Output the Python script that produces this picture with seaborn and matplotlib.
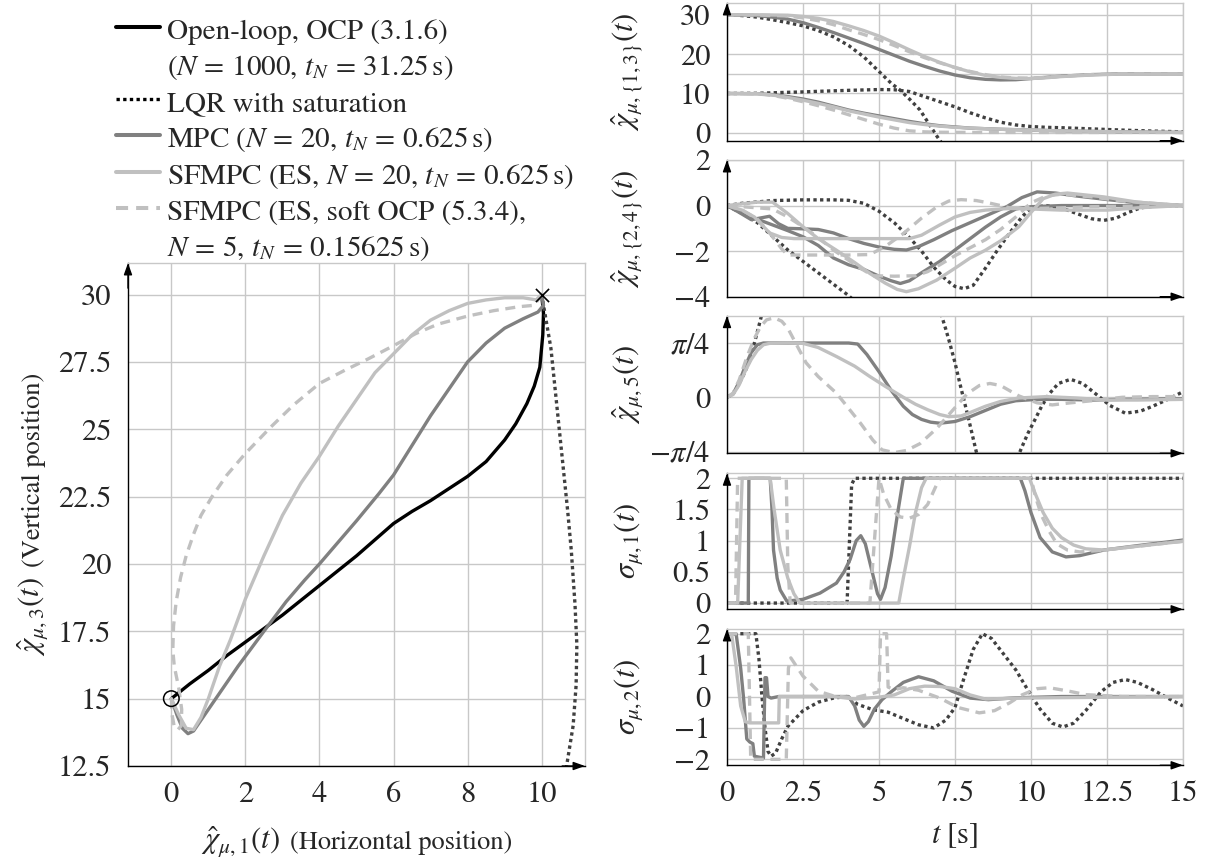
import matplotlib
matplotlib.use("Agg")
import matplotlib.pyplot as plt
import seaborn as sns
from matplotlib.lines import Line2D

# ---------------- trajectory in the plane (horizontal vs vertical position) ----------------
start_x, start_y = [0.0], [15.0]
target_x, target_y = [10.0], [30.0]

ol_x = [0, 0.5, 1, 1.5, 2, 2.5, 3, 3.5, 4, 4.5, 5, 5.5, 6, 6.5, 7, 7.5, 8, 8.5, 9, 9.3, 9.6, 9.8, 9.95, 10.03, 10.05, 10.0]
ol_y = [15, 15.55, 16.05, 16.6, 17.1, 17.6, 18.1, 18.65, 19.2, 19.75, 20.3, 20.9, 21.5, 21.95, 22.35, 22.8, 23.25, 23.8, 24.6, 25.2, 25.95, 26.6, 27.3, 28.5, 29.3, 30]

lqr_x = [10, 10.1, 10.25, 10.4, 10.55, 10.7, 10.8, 10.9, 10.95, 10.93, 10.85, 10.72, 10.65]
lqr_y = [30, 29.2, 28.0, 26.0, 24.0, 22.0, 20.5, 18.5, 17.0, 15.5, 14.0, 12.9, 12.3]

mpc_x = [0, 0.15, 0.3, 0.45, 0.6, 0.9, 1.3, 1.8, 2.5, 3.1, 3.6, 4.0, 4.5, 5.0, 5.6, 6.0, 6.5, 7.0, 7.5, 8.0, 8.5, 9.0, 9.5, 9.9, 10.05, 10.0]
mpc_y = [15, 14.4, 13.9, 13.7, 13.8, 14.4, 15.2, 16.2, 17.5, 18.6, 19.4, 20.0, 20.8, 21.6, 22.6, 23.3, 24.4, 25.5, 26.5, 27.5, 28.2, 28.75, 29.1, 29.35, 29.6, 30]

sf_x = [0, 0.2, 0.4, 0.6, 0.8, 1.0, 1.3, 1.6, 2.0, 2.5, 3.0, 3.5, 4.0, 4.5, 5.0, 5.5, 6.0, 6.5, 7.0, 7.5, 8.0, 8.5, 9.0, 9.5, 9.85, 10.0]
sf_y = [15, 14.4, 13.9, 13.85, 14.3, 15.0, 16.2, 17.2, 18.7, 20.3, 21.8, 23.0, 24.0, 25.1, 26.1, 27.1, 27.8, 28.5, 29.05, 29.4, 29.67, 29.8, 29.88, 29.88, 29.8, 30]

sd_x = [0, 0.02, 0.08, 0.18, 0.27, 0.28, 0.2, 0.08, 0.04, 0.06, 0.13, 0.25, 0.4, 0.6, 0.8, 1.1, 1.5, 2.0, 2.7, 3.3, 4.0, 4.7, 5.3, 6.0, 6.6, 7.2, 8.0, 8.7, 9.4, 9.8, 10.0]
sd_y = [15, 14.4, 13.95, 13.85, 14.0, 14.6, 15.4, 16.2, 16.8, 17.7, 18.6, 19.5, 20.3, 21.1, 21.8, 22.5, 23.3, 24.1, 25.1, 25.9, 26.7, 27.2, 27.6, 28.1, 28.55, 28.9, 29.2, 29.4, 29.55, 29.6, 30]

# ---------------- positions chi_1 (lower group) and chi_3 (upper group) ----------------
lqr_p3_t = [0, 0.5, 1, 1.6, 2.0, 2.5, 3.0, 3.5, 4.0, 4.5, 5.0, 5.4, 5.7, 6.0, 6.35, 6.6, 6.9, 7.1]
lqr_p3_v = [30, 29.8, 29.4, 28.6, 28.0, 27.2, 26.0, 24.4, 22.2, 19.3, 15.6, 12.6, 10.8, 8.6, 5.8, 2.8, -0.8, -3.0]
mpc_p3_t = [0, 1, 1.5, 2, 2.5, 3, 3.5, 4, 4.5, 5, 5.5, 6, 6.5, 7, 7.5, 8, 8.5, 9, 9.5, 10, 10.5, 11, 12, 13, 15]
mpc_p3_v = [30, 29.8, 29.4, 28.9, 28.0, 26.8, 25.5, 24.1, 22.7, 21.2, 19.7, 18.2, 16.9, 15.7, 14.7, 14.0, 13.6, 13.45, 13.5, 13.8, 14.1, 14.4, 14.8, 15.0, 15.0]
sf_p3_t = [0, 1, 2, 2.5, 3, 3.5, 4, 4.5, 5, 5.5, 6, 6.5, 7, 7.5, 8, 8.5, 9, 9.5, 10, 10.5, 11, 12, 13, 15]
sf_p3_v = [30, 30, 29.9, 29.6, 29.1, 28.3, 27.2, 26.0, 24.6, 22.9, 21.1, 19.4, 17.9, 16.6, 15.5, 14.6, 14.1, 13.85, 13.8, 14.0, 14.3, 14.7, 14.95, 15.0]
sd_p3_t = [0, 1, 2, 2.5, 3, 3.5, 4, 4.5, 5, 5.5, 6, 6.5, 7, 7.5, 8, 8.5, 9, 9.5, 10, 10.5, 11, 12, 13, 15]
sd_p3_v = [30, 29.95, 29.7, 29.2, 28.5, 27.5, 26.2, 25.0, 23.7, 22.2, 20.6, 19.1, 17.8, 16.6, 15.6, 14.8, 14.2, 13.95, 13.9, 14.1, 14.4, 14.8, 15.0, 15.0]

lqr_p1_t = [0, 1, 2, 2.5, 3, 4, 5, 5.5, 6, 6.5, 7, 7.5, 8, 8.5, 9, 9.5, 10, 10.5, 11, 12, 13, 14, 15]
lqr_p1_v = [10, 10.05, 10.3, 10.4, 10.55, 10.8, 11.0, 10.95, 10.5, 9.2, 7.9, 6.6, 5.1, 3.8, 2.7, 2.0, 1.6, 1.4, 1.3, 1.0, 0.7, 0.45, 0.25]
mpc_p1_t = [0, 1, 1.5, 2, 2.5, 3, 3.5, 4, 4.5, 5, 5.5, 6, 6.5, 7, 7.5, 8, 9, 10, 11, 12.5, 15]
mpc_p1_v = [10, 9.95, 9.7, 9.2, 8.6, 7.8, 6.8, 5.8, 5.0, 4.3, 3.6, 2.9, 2.3, 1.8, 1.5, 1.2, 0.9, 0.7, 0.5, 0.3, 0.1]
sf_p1_t = [0, 1, 1.5, 2, 2.5, 3, 3.5, 4, 4.5, 5, 5.5, 6, 6.5, 7, 7.5, 8, 9, 10, 11, 12.5, 15]
sf_p1_v = [10, 9.95, 9.6, 9.0, 8.3, 7.5, 6.6, 5.6, 4.8, 4.0, 3.3, 2.6, 2.1, 1.7, 1.4, 1.2, 0.9, 0.7, 0.5, 0.3, 0.1]
sd_p1_t = [0, 1, 1.5, 2, 2.5, 3, 3.5, 4, 4.5, 5, 5.5, 6, 6.5, 7, 8, 10, 12.5, 15]
sd_p1_v = [10, 9.9, 9.5, 8.8, 7.9, 6.9, 5.8, 4.6, 3.4, 2.2, 1.2, 0.5, 0.25, 0.15, 0.1, 0.1, 0.1, 0.1]

# ---------------- velocities chi_2 and chi_4 ----------------
lqr_v2_t = [0, 0.5, 1.5, 2.5, 3.5, 4.0, 4.5, 5.0, 5.5, 6.0, 6.4, 6.8, 7.2, 7.5, 7.8, 8.1, 8.5, 8.9, 9.3, 9.7, 10.0, 10.5, 11.0, 11.5, 12.0, 12.4, 12.8, 13.2, 13.6, 14.2, 15]
lqr_v2_v = [0, 0.1, 0.22, 0.25, 0.25, 0.23, 0.1, -0.25, -0.75, -1.4, -2.0, -2.7, -3.25, -3.55, -3.65, -3.5, -2.75, -1.95, -1.2, -0.5, -0.1, 0.0, -0.1, -0.35, -0.58, -0.65, -0.55, -0.3, -0.1, 0.0, 0.0]
lqr_v4_t = [0, 0.5, 1.0, 2.0, 3.0, 3.6, 4.0, 4.2]
lqr_v4_v = [0, -0.35, -0.75, -1.95, -2.95, -3.55, -3.95, -4.2]
mpc_v2_t = [0, 0.4, 0.8, 1.4, 1.7, 2.0, 2.5, 3.0, 3.5, 4.0, 4.5, 5.0, 5.5, 5.9, 6.3, 6.8, 7.4, 8.0, 8.6, 9.2, 9.7, 10.2, 10.8, 11.5, 12.4, 13.5, 15]
mpc_v2_v = [0, -0.3, -0.62, -0.47, -0.8, -1.0, -1.02, -1.05, -1.2, -1.45, -1.66, -1.82, -1.92, -1.95, -1.8, -1.5, -1.1, -0.75, -0.4, -0.05, 0.35, 0.6, 0.55, 0.42, 0.28, 0.12, 0.0]
mpc_v4_t = [0, 0.5, 1.0, 1.5, 2.0, 2.5, 3.0, 3.5, 4.0, 4.5, 5.0, 5.4, 5.7, 6.0, 6.4, 7.0, 7.5, 8.0, 8.5, 9.0, 9.5, 10.0, 11, 12, 15]
mpc_v4_v = [0, -0.3, -0.6, -0.85, -1.1, -1.37, -1.75, -2.3, -2.6, -2.8, -3.1, -3.3, -3.42, -3.3, -2.95, -2.45, -1.95, -1.45, -0.95, -0.5, -0.15, -0.05, 0.0, 0.0, 0.0]
sf_v4_t = [0, 0.5, 1.0, 1.5, 2.0, 2.5, 3.0, 3.6, 4.2, 4.7, 5.2, 5.6, 5.9, 6.3, 6.9, 7.5, 8.0, 8.5, 9.0, 9.6, 10.0, 10.4, 10.8, 11.2, 12.4, 13.5, 15]
sf_v4_v = [0, 0.08, 0.15, 0.15, -0.35, -0.93, -1.45, -1.96, -2.5, -2.98, -3.4, -3.68, -3.78, -3.65, -3.27, -2.75, -2.3, -1.96, -1.55, -0.93, -0.3, 0.3, 0.5, 0.55, 0.38, 0.15, 0.0]
sf_v2_t = [0, 0.5, 0.9, 1.4, 1.8, 2.2, 3, 4, 5, 6.0, 6.4, 7.0, 7.5, 8.0, 8.5, 9.0, 9.5, 10, 11, 12.5, 13.5, 15]
sf_v2_v = [0, -0.2, -0.5, -1.2, -1.4, -1.45, -1.45, -1.45, -1.45, -1.45, -1.3, -0.85, -0.5, -0.3, -0.2, -0.15, -0.12, -0.15, -0.2, -0.2, -0.1, 0.0]
sd_v2_t = [0, 0.5, 1.0, 1.4, 1.8, 2.0, 3.0, 4.0, 4.7, 5.2, 5.8, 6.4, 6.9, 7.3, 7.7, 8.2, 8.6, 9.0, 9.4, 10, 11, 12, 15]
sd_v2_v = [0, -0.2, -0.6, -1.2, -1.9, -2.17, -2.17, -2.17, -2.15, -1.8, -1.23, -0.55, -0.06, 0.2, 0.26, 0.22, 0.12, 0.0, -0.13, -0.13, -0.1, -0.05, 0.0]
sd_v4_t = [0, 0.5, 1.0, 1.5, 2.0, 2.5, 3.0, 3.5, 4.0, 4.4, 4.8, 5.5, 6.2, 6.6, 7.0, 7.5, 8.0, 8.5, 9.0, 9.5, 10.0, 10.5, 11.0, 12.0, 13.0, 15]
sd_v4_v = [0, -0.05, -0.1, -0.15, -0.5, -0.93, -1.4, -1.95, -2.4, -2.76, -3.08, -3.1, -3.08, -2.9, -2.6, -2.2, -1.85, -1.5, -1.05, -0.5, 0.12, 0.42, 0.5, 0.38, 0.2, 0.0]

# ---------------- orientation chi_5 ----------------
lqr_a_seg1_t = [0, 0.2, 0.4, 0.55, 0.7, 0.85, 1.0, 1.1, 1.2]
lqr_a_seg1_v = [0, 0.05, 0.2, 0.33, 0.48, 0.7, 0.95, 1.12, 1.3]
lqr_a_seg2_t = [6.98, 7.06, 7.2, 7.33, 7.5, 7.66, 7.8, 7.93, 8.1, 8.25]
lqr_a_seg2_v = [1.3, 1.18, 0.98, 0.78, 0.5, 0.2, -0.05, -0.28, -0.6, -0.88]
lqr_a_seg3_t = [9.55, 9.7, 9.9, 10.1, 10.35, 10.6, 10.9, 11.3, 11.7, 12.1, 12.6, 13.1, 13.6, 14.0, 14.5, 15]
lqr_a_seg3_v = [-0.88, -0.72, -0.52, -0.35, -0.13, 0.05, 0.2, 0.26, 0.2, 0.06, -0.12, -0.23, -0.2, -0.13, -0.03, 0.08]
mpc_a_t = [0, 0.2, 0.4, 0.6, 0.8, 1.0, 1.2, 1.5, 2, 3, 4, 4.3, 4.6, 5.0, 5.4, 5.8, 6.1, 6.4, 6.7, 7.0, 7.5, 8.0, 8.5, 9.0, 9.5, 10.2, 11, 12, 13, 15]
mpc_a_v = [0, 0.05, 0.22, 0.45, 0.65, 0.76, 0.785, 0.785, 0.785, 0.785, 0.785, 0.77, 0.62, 0.37, 0.1, -0.13, -0.25, -0.32, -0.36, -0.375, -0.35, -0.28, -0.19, -0.1, -0.05, -0.03, -0.03, -0.04, -0.03, -0.02]
sf_a_t = [0, 0.2, 0.4, 0.6, 0.8, 1.0, 1.2, 1.4, 2.0, 2.5, 3.0, 3.6, 4.2, 4.7, 5.2, 5.8, 6.2, 6.6, 7.0, 7.3, 7.7, 8.0, 8.5, 9.0, 9.6, 10.5, 11.5, 12.5, 13.5, 15]
sf_a_v = [0, 0.04, 0.18, 0.38, 0.55, 0.68, 0.76, 0.78, 0.785, 0.78, 0.72, 0.59, 0.45, 0.3, 0.16, 0.0, -0.1, -0.18, -0.25, -0.28, -0.27, -0.22, -0.13, -0.06, -0.01, 0.01, -0.01, -0.04, -0.04, -0.03]
sd_a_t = [0, 0.2, 0.4, 0.66, 0.9, 1.1, 1.3, 1.55, 1.8, 2.0, 2.3, 2.6, 3.0, 3.6, 4.0, 4.4, 4.8, 5.1, 5.5, 5.9, 6.35, 6.9, 7.4, 7.9, 8.3, 8.65, 9.0, 9.6, 10.2, 10.7, 11.3, 12, 13, 14, 15]
sd_a_v = [0, 0.06, 0.25, 0.59, 0.85, 1.02, 1.12, 1.15, 1.1, 1.0, 0.75, 0.5, 0.3, 0.06, -0.16, -0.38, -0.62, -0.76, -0.8, -0.77, -0.67, -0.45, -0.2, 0.05, 0.17, 0.2, 0.17, 0.02, -0.08, -0.11, -0.08, -0.05, 0.0, 0.01, 0.01]

# ---------------- input sigma_1 ----------------
lqr_s1_t = [0, 3.95, 4.1, 4.2, 15]
lqr_s1_v = [0, 0, 1.9, 2, 2]
mpc_s1_t = [0, 0.7, 0.72, 1.42, 1.48, 1.53, 1.65, 1.75, 1.97, 2.5, 3.06, 3.6, 3.85, 4.05, 4.25, 4.4, 4.55, 4.75, 4.95, 5.05, 5.2, 5.4, 5.6, 5.8, 9.65, 9.8, 10.0, 10.3, 10.7, 11.15, 11.6, 12.4, 13.5, 15]
mpc_s1_v = [0, 0, 2, 2, 1.5, 0.85, 0.4, 0.21, 0.03, 0.06, 0.16, 0.32, 0.5, 0.7, 1.0, 1.08, 0.95, 0.55, 0.15, 0.06, 0.25, 0.75, 1.4, 2, 2, 1.8, 1.45, 1.05, 0.82, 0.74, 0.76, 0.85, 0.92, 1.01]
sf_s1_t = [0, 0.35, 0.5, 1.42, 1.55, 1.75, 2.0, 2.2, 2.4, 5.65, 5.8, 6.0, 6.2, 6.4, 6.55, 9.95, 10.1, 10.4, 10.7, 11.0, 11.4, 11.8, 12.4, 13.5, 15]
sf_s1_v = [0, 0, 2, 2, 1.5, 0.85, 0.4, 0.15, 0.0, 0.0, 0.4, 0.9, 1.45, 1.85, 2, 2, 1.8, 1.45, 1.2, 1.05, 0.93, 0.87, 0.85, 0.91, 0.99]
sd_s1_t = [0, 0.28, 0.35, 1.95, 2.0, 2.08, 4.7, 4.85, 5.0, 5.15, 5.4, 5.7, 6.0, 6.3, 6.6, 6.85, 7.0, 10.0, 10.15, 10.35, 10.6, 10.85, 11.2, 11.6, 12.2, 13.5, 15]
sd_s1_v = [0, 0, 2, 2, 0.6, 0.0, 0.0, 1.0, 2, 1.75, 1.5, 1.38, 1.36, 1.42, 1.58, 1.85, 2, 2, 1.7, 1.4, 1.15, 0.95, 0.85, 0.82, 0.84, 0.91, 0.99]

# ---------------- input sigma_2 ----------------
lqr_s2_t = [0, 0.95, 1.05, 1.15, 1.25, 1.35, 1.45, 1.6, 1.8, 2.0, 2.5, 3.0, 3.5, 3.95, 4.3, 4.8, 5.3, 5.8, 6.3, 6.8, 7.2, 7.5, 7.8, 8.1, 8.4, 8.7, 9.1, 9.5, 9.9, 10.3, 10.7, 11.05, 11.4, 11.8, 12.3, 12.7, 13.1, 13.5, 14.0, 14.5, 15]
lqr_s2_v = [2, 2, 1.2, 0.0, -1.0, -1.75, -1.9, -1.8, -1.35, -0.95, -0.45, -0.18, -0.05, 0.0, -0.25, -0.42, -0.5, -0.7, -0.9, -1.0, -0.75, -0.35, 0.6, 1.5, 2.0, 1.85, 1.35, 0.85, 0.2, -0.4, -0.85, -0.97, -0.85, -0.45, 0.15, 0.45, 0.54, 0.45, 0.22, -0.05, -0.3]
mpc_s2_t = [0, 0.3, 0.45, 0.55, 0.65, 0.75, 0.85, 0.9, 1.2, 1.25, 1.3, 1.35, 1.45, 1.7, 2.5, 3.5, 4.0, 4.2, 4.35, 4.5, 4.65, 4.85, 5.1, 5.4, 5.8, 6.3, 6.8, 7.4, 8.0, 8.6, 9.5, 11, 15]
mpc_s2_v = [2, 2, 0.9, -0.1, -1.35, -1.45, -1.5, -1.9, -1.96, 0.6, 0.6, 0.0, -0.05, 0.0, 0.0, 0.0, 0.0, -0.3, -0.75, -0.95, -0.8, -0.4, -0.1, 0.15, 0.45, 0.63, 0.5, 0.17, -0.05, -0.1, -0.04, 0.0, 0.0]
sf_s2_t = [0, 0.15, 0.3, 0.45, 0.6, 0.75, 1.7, 1.72, 2.5, 3.5, 4.2, 5.0, 5.5, 6.0, 6.5, 7.0, 7.5, 8.0, 8.5, 9.5, 15]
sf_s2_v = [2, 2, 0.97, -0.3, -0.8, -0.84, -0.84, 0.0, 0.0, 0.0, -0.08, -0.02, 0.05, 0.25, 0.33, 0.32, 0.25, 0.05, -0.08, -0.05, 0.0]
sd_s2_t = [0, 0.7, 0.78, 1.95, 2.02, 2.1, 2.5, 3.0, 3.5, 4.2, 4.8, 5.0, 5.05, 5.25, 5.3, 5.5, 5.8, 6.3, 7.0, 7.6, 8.3, 8.8, 9.3, 9.7, 10.2, 10.6, 11.2, 11.8, 13, 15]
sd_s2_v = [2, 2, -2, -2, 0.9, 1.23, 0.65, 0.17, 0.02, -0.04, 0.1, 0.15, 2, 2, 0.3, 0.22, 0.28, 0.2, -0.05, -0.35, -0.52, -0.45, -0.2, 0.05, 0.25, 0.28, 0.18, 0.06, 0.0, 0.0]

# ---------------- labels ----------------
legend_labels = [
    "Open-loop, OCP (3.1.6)",
    r"($N\,=\,1000$, $t_N\,=\,31.25\,$s)",
    "LQR with saturation",
    r"MPC ($N\,=\,20$, $t_N\,=\,0.625\,$s)",
    r"SFMPC (ES, $N\,=\,20$, $t_N\,=\,0.625\,$s)",
    "SFMPC (ES, soft OCP (5.3.4),",
    r"$N\,=\,5$, $t_N\,=\,0.15625\,$s)",
]
xy_xticks = [0, 2, 4, 6, 8, 10]
xy_yticks = [12.5, 15, 17.5, 20, 22.5, 25, 27.5, 30]
xy_yticklabels = ["12.5", "15", "17.5", "20", "22.5", "25", "27.5", "30"]
t_ticks = [0, 2.5, 5, 7.5, 10, 12.5, 15]
t_ticklabels = ["0", "2.5", "5", "7.5", "10", "12.5", "15"]
sub_ylabels = [r"$\hat{\chi}_{\mu,\{1,3\}}(t)$", r"$\hat{\chi}_{\mu,\{2,4\}}(t)$",
               r"$\hat{\chi}_{\mu,5}(t)$", r"$\sigma_{\mu,1}(t)$", r"$\sigma_{\mu,2}(t)$"]
sub_yticks = [[0, 10, 15, 20, 30], [-4, -2, 0, 2], [-0.7854, 0, 0.7854], [0, 0.5, 1, 1.5, 2], [-2, -1, 0, 1, 2]]
sub_yticklabels = [["0", "10", "", "20", "30"], ["\u22124", "\u22122", "0", "2"],
                   [r"$-\pi/4$", "0", r"$\pi/4$"], ["0", "0.5", "1", "1.5", "2"],
                   ["\u22122", "\u22121", "0", "1", "2"]]
sub_ylims = [(-2, 33), (-4, 2), (-0.81, 1.18), (-0.1, 2.08), (-2.19, 2.15)]

# ---------------- style ----------------
sns.set_style("white")
plt.rcParams.update({
    "font.family": ["STIXGeneral", "DejaVu Serif"],
    "mathtext.fontset": "stix",
    "font.size": 22,
    "axes.unicode_minus": True,
})
FS = 22
FS_LEGEND = 21
FS_WORDS = 19
LW = 2.4
GRID = "#c8c8c8"
STY = {
    "ol": dict(color="black", linestyle="-"),
    "lqr": dict(color="#404040", linestyle=(0, (1, 1))),
    "mpc": dict(color="#808080", linestyle="-"),
    "sf": dict(color="#c0c0c0", linestyle="-"),
    "sd": dict(color="#c0c0c0", linestyle=(0, (3, 2))),
}

W, H = 1211, 863
fig = plt.figure(figsize=(W / 100, H / 100), dpi=100)


def trace(ax, x, y, key):
    s = STY[key]
    sns.lineplot(x=x, y=y, ax=ax, sort=False, estimator=None, color=s["color"],
                 linewidth=LW, linestyle=s["linestyle"], legend=False)


def frame(ax):
    ax.grid(True, color=GRID, linewidth=1.0)
    ax.set_axisbelow(True)
    for side in ("top", "right"):
        ax.spines[side].set_color(GRID)
        ax.spines[side].set_linewidth(1.0)
    for side in ("left", "bottom"):
        ax.spines[side].set_color("black")
        ax.spines[side].set_linewidth(1.0)
    ax.tick_params(axis="both", which="both", direction="inout", length=6, width=0.8,
                   color="#555555", labelsize=FS, top=False, right=False)
    ax.tick_params(axis="y", pad=9)
    ax.tick_params(axis="x", pad=8)
    arrow = dict(arrowstyle="-|>,head_length=0.7,head_width=0.25", color="black",
                 lw=1.0, shrinkA=0, shrinkB=0, mutation_scale=10)
    ax.annotate("", xy=(0, 1.0), xytext=(0, 0.95), xycoords="axes fraction", arrowprops=arrow)
    ax.annotate("", xy=(1.0, 0), xytext=(0.95, 0), xycoords="axes fraction", arrowprops=arrow)


def px_rect(left, top, right, bottom):
    return [left / W, 1 - bottom / H, (right - left) / W, (bottom - top) / H]


# ---------------- left panel ----------------
ax = fig.add_axes(px_rect(128, 263, 585, 766))
trace(ax, ol_x, ol_y, "ol")
trace(ax, lqr_x, lqr_y, "lqr")
trace(ax, mpc_x, mpc_y, "mpc")
trace(ax, sf_x, sf_y, "sf")
trace(ax, sd_x, sd_y, "sd")
sns.scatterplot(x=start_x, y=start_y, ax=ax, marker="o", s=125, facecolor="none",
                edgecolor="black", linewidth=1.1, zorder=6, legend=False)
sns.scatterplot(x=target_x, y=target_y, ax=ax, marker="x", s=90, color="black",
                linewidth=1.2, zorder=6, legend=False)
ax.set_xlim(-1.17, 11.17)
ax.set_ylim(12.5, 31.17)
ax.set_xticks(xy_xticks)
ax.set_xticklabels([str(v) for v in xy_xticks])
ax.set_yticks(xy_yticks)
ax.set_yticklabels(xy_yticklabels)
ax.set_xlabel("")
ax.set_ylabel("")
frame(ax)

# ---------------- right panels ----------------
rows_px = [(3, 140.7), (160, 296.7), (315.7, 453.3), (473.3, 609.3), (629, 765.3)]
series = [
    [(lqr_p3_t, lqr_p3_v, "lqr"), (lqr_p1_t, lqr_p1_v, "lqr"),
     (mpc_p3_t, mpc_p3_v, "mpc"), (mpc_p1_t, mpc_p1_v, "mpc"),
     (sf_p3_t, sf_p3_v, "sf"), (sf_p1_t, sf_p1_v, "sf"),
     (sd_p3_t, sd_p3_v, "sd"), (sd_p1_t, sd_p1_v, "sd")],
    [(lqr_v2_t, lqr_v2_v, "lqr"), (lqr_v4_t, lqr_v4_v, "lqr"),
     (mpc_v2_t, mpc_v2_v, "mpc"), (mpc_v4_t, mpc_v4_v, "mpc"),
     (sf_v2_t, sf_v2_v, "sf"), (sf_v4_t, sf_v4_v, "sf"),
     (sd_v2_t, sd_v2_v, "sd"), (sd_v4_t, sd_v4_v, "sd")],
    [(lqr_a_seg1_t, lqr_a_seg1_v, "lqr"), (lqr_a_seg2_t, lqr_a_seg2_v, "lqr"),
     (lqr_a_seg3_t, lqr_a_seg3_v, "lqr"), (mpc_a_t, mpc_a_v, "mpc"),
     (sf_a_t, sf_a_v, "sf"), (sd_a_t, sd_a_v, "sd")],
    [(lqr_s1_t, lqr_s1_v, "lqr"), (mpc_s1_t, mpc_s1_v, "mpc"),
     (sf_s1_t, sf_s1_v, "sf"), (sd_s1_t, sd_s1_v, "sd")],
    [(lqr_s2_t, lqr_s2_v, "lqr"), (mpc_s2_t, mpc_s2_v, "mpc"),
     (sf_s2_t, sf_s2_v, "sf"), (sd_s2_t, sd_s2_v, "sd")],
]
for i, (top, bottom) in enumerate(rows_px):
    a = fig.add_axes(px_rect(727, top, 1183, bottom))
    for t, v, key in series[i]:
        trace(a, t, v, key)
    a.set_xlim(0, 15)
    a.set_ylim(*sub_ylims[i])
    a.set_xticks(t_ticks)
    a.set_yticks(sub_yticks[i])
    a.set_yticklabels(sub_yticklabels[i])
    a.set_xlabel("")
    frame(a)
    a.set_ylabel(sub_ylabels[i], fontsize=FS)
    a.yaxis.set_label_coords(-0.18, 0.5)
    if i < 4:
        a.tick_params(axis="x", labelbottom=False)
    else:
        a.set_xticklabels(t_ticklabels)
        a.set_xlabel(r"$t\ [\mathrm{s}]$", fontsize=FS, labelpad=9)

# ---------------- legend ----------------
blank = Line2D([], [], color="none")
handles = [
    Line2D([], [], color="black", lw=LW + 0.5),
    blank,
    Line2D([], [], color="black", lw=LW, linestyle=(0, (1, 1))),
    Line2D([], [], color="#808080", lw=LW + 0.5),
    Line2D([], [], color="#c0c0c0", lw=LW + 0.5),
    Line2D([], [], color="#c0c0c0", lw=LW + 0.5, linestyle=(0, (3, 2))),
    blank,
]
fig.legend(handles, legend_labels, loc="upper left", bbox_to_anchor=(116 / W, 1 - 15 / H),
           frameon=False, fontsize=FS_LEGEND, handlelength=1.5, handletextpad=0.24,
           handleheight=1.15, labelspacing=0.18, borderpad=0, borderaxespad=0)

# ---------------- two-size axis labels of the left panel ----------------
xm = fig.text(0, 0, r"$\hat{\chi}_{\mu,1}(t)$", fontsize=FS, ha="left", va="baseline")
xw = fig.text(0, 0, "(Horizontal position)", fontsize=FS_WORDS, ha="left", va="baseline")
ym = fig.text(0, 0, r"$\hat{\chi}_{\mu,3}(t)$", fontsize=FS, ha="left", va="baseline",
              rotation=90, rotation_mode="anchor")
yw = fig.text(0, 0, "(Vertical position)", fontsize=FS_WORDS, ha="left", va="baseline",
              rotation=90, rotation_mode="anchor")
fig.canvas.draw()
r = fig.canvas.get_renderer()
gap = 10
w1 = xm.get_window_extent(r).width
w2 = xw.get_window_extent(r).width
x0 = 356.5 - (w1 + gap + w2) / 2
base_y = 1 - 849 / H
xm.set_position((x0 / W, base_y))
xw.set_position(((x0 + w1 + gap) / W, base_y))
h1 = ym.get_window_extent(r).height
h2 = yw.get_window_extent(r).height
y0 = 514.5 + (h1 + gap + h2) / 2
base_x = 40 / W
ym.set_position((base_x, 1 - y0 / H))
yw.set_position((base_x, 1 - (y0 - h1 - gap) / H))

fig.savefig("out.png", dpi=100)
